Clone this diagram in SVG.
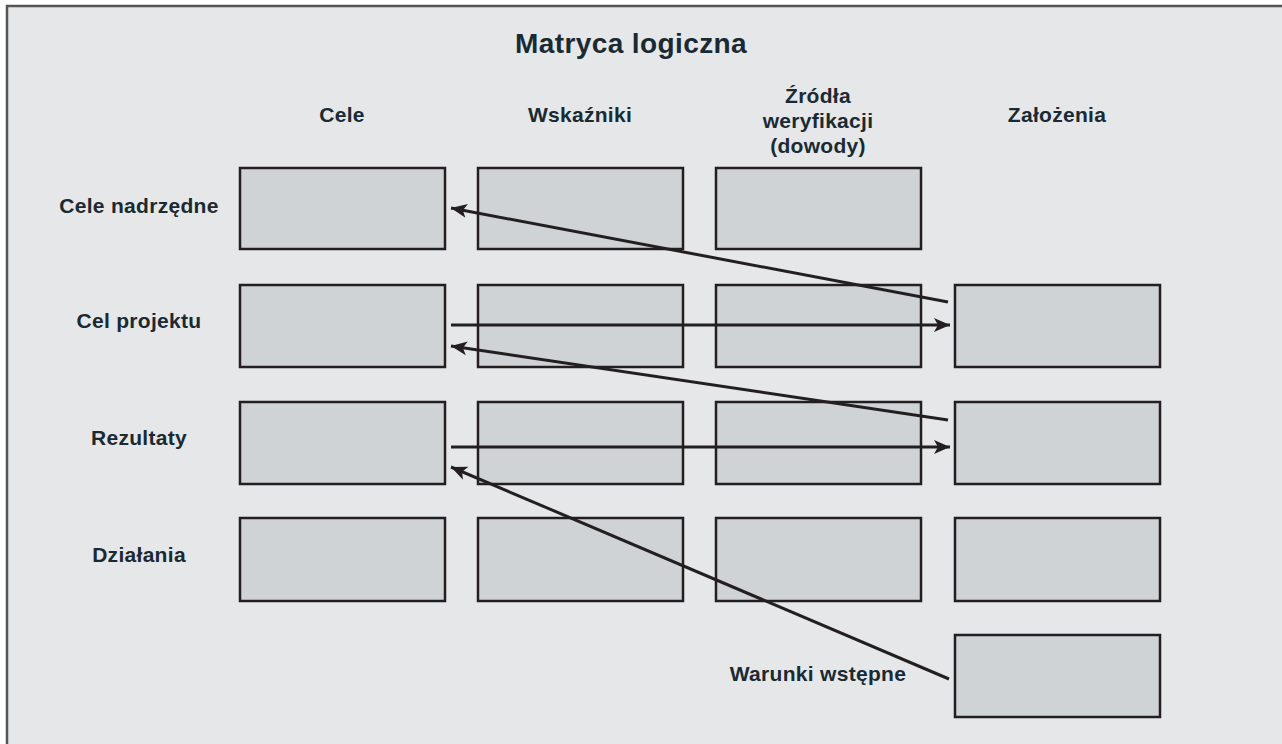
<svg xmlns="http://www.w3.org/2000/svg" width="1282" height="744" viewBox="0 0 1282 744">
<style>
.bg{fill:#e6e7e8}
.frame{stroke:#555;stroke-width:2.5;fill:none}
.box{fill:#d0d3d6;stroke:#231f20;stroke-width:2.5}
.t{font-family:"Liberation Sans",Arial,sans-serif;font-weight:bold;fill:#1a2a33;text-anchor:middle}
.title{font-size:28px;letter-spacing:0.4px}
.lbl{font-size:21px;letter-spacing:0.3px}
.conn{stroke:#231f20;stroke-width:3;fill:none;marker-end:url(#ah)}
</style>
<defs>
<marker id="ah" markerUnits="userSpaceOnUse" markerWidth="18" markerHeight="16" refX="16" refY="7" orient="auto">
<path d="M0,0 L16,7 L0,14 L4,7 Z" fill="#231f20"/>
</marker>
</defs>
<rect class="bg" x="6" y="5" width="1276" height="739"/>
<path class="frame" d="M7,744 V6 H1282"/>
<text class="t title" x="631" y="53">Matryca logiczna</text>
<g id="headers">
<text class="t lbl" x="342" y="122">Cele</text>
<text class="t lbl" x="580" y="122">Wskaźniki</text>
<text class="t lbl" x="818" y="103">Źródła</text>
<text class="t lbl" x="818" y="128">weryfikacji</text>
<text class="t lbl" x="818" y="153">(dowody)</text>
<text class="t lbl" x="1057" y="122">Założenia</text>
</g>
<g id="rows">
<text class="t lbl" x="139" y="213">Cele nadrzędne</text>
<text class="t lbl" x="139" y="328">Cel projektu</text>
<text class="t lbl" x="139" y="445">Rezultaty</text>
<text class="t lbl" x="139" y="562">Działania</text>
<text class="t lbl" x="818" y="681">Warunki wstępne</text>
</g>
<g id="r1c1"><rect class="box" x="240" y="168" width="205" height="81"/></g>
<g id="r1c2"><rect class="box" x="478" y="168" width="205" height="81"/></g>
<g id="r1c3"><rect class="box" x="716" y="168" width="205" height="81"/></g>
<g id="r2c1"><rect class="box" x="240" y="285" width="205" height="82"/></g>
<g id="r2c2"><rect class="box" x="478" y="285" width="205" height="82"/></g>
<g id="r2c3"><rect class="box" x="716" y="285" width="205" height="82"/></g>
<g id="r2c4"><rect class="box" x="955" y="285" width="205" height="82"/></g>
<g id="r3c1"><rect class="box" x="240" y="402" width="205" height="82"/></g>
<g id="r3c2"><rect class="box" x="478" y="402" width="205" height="82"/></g>
<g id="r3c3"><rect class="box" x="716" y="402" width="205" height="82"/></g>
<g id="r3c4"><rect class="box" x="955" y="402" width="205" height="82"/></g>
<g id="r4c1"><rect class="box" x="240" y="518" width="205" height="83"/></g>
<g id="r4c2"><rect class="box" x="478" y="518" width="205" height="83"/></g>
<g id="r4c3"><rect class="box" x="716" y="518" width="205" height="83"/></g>
<g id="r4c4"><rect class="box" x="955" y="518" width="205" height="83"/></g>
<g id="r5c4"><rect class="box" x="955" y="635" width="205" height="82"/></g>
<g id="connectors">
<line class="conn" x1="948" y1="302" x2="451" y2="208"/>
<line class="conn" x1="451" y1="325" x2="950" y2="325"/>
<line class="conn" x1="948" y1="420" x2="451" y2="346"/>
<line class="conn" x1="451" y1="447" x2="950" y2="447"/>
<line class="conn" x1="949" y1="679" x2="451" y2="467"/>
</g>
</svg>
